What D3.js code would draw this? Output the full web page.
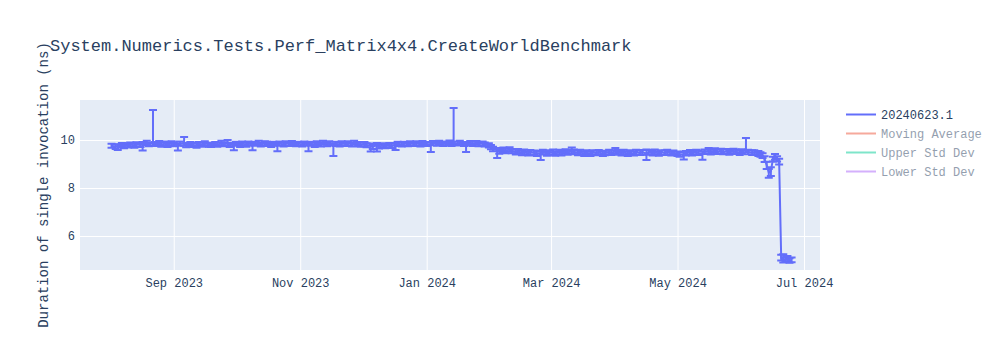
<!DOCTYPE html>
<html>
<head>
<meta charset="utf-8">
<script src="https://cdn.jsdelivr.net/npm/d3@7"></script>
<style>
  html, body { margin: 0; padding: 0; background: #fff; }
  svg { display: block; font-family: "Courier New", "Liberation Mono", monospace; }
</style>
</head>
<body>
<svg id="chart" width="1000" height="350"></svg>
<script>
const chartTitle = "System.Numerics.Tests.Perf_Matrix4x4.CreateWorldBenchmark";
const yAxisTitle = "Duration of single invocation (ns)";

const dates = [
  "2023-08-02","2023-08-04","2023-08-05","2023-08-07","2023-08-08","2023-08-10","2023-08-11","2023-08-13","2023-08-14","2023-08-16","2023-08-17","2023-08-19","2023-08-20","2023-08-22","2023-08-23","2023-08-25","2023-08-26","2023-08-28","2023-08-29","2023-08-31",
  "2023-09-01","2023-09-03","2023-09-04","2023-09-06","2023-09-07","2023-09-09","2023-09-10","2023-09-12","2023-09-13","2023-09-15","2023-09-16","2023-09-18","2023-09-19","2023-09-21","2023-09-22","2023-09-24","2023-09-25","2023-09-27","2023-09-28","2023-09-30",
  "2023-10-01","2023-10-03","2023-10-04","2023-10-06","2023-10-07","2023-10-09","2023-10-10","2023-10-12","2023-10-13","2023-10-15","2023-10-16","2023-10-18","2023-10-19","2023-10-21","2023-10-22","2023-10-24","2023-10-25","2023-10-27","2023-10-28","2023-10-30","2023-10-31",
  "2023-11-02","2023-11-03","2023-11-05","2023-11-06","2023-11-08","2023-11-09","2023-11-11","2023-11-12","2023-11-14","2023-11-15","2023-11-17","2023-11-18","2023-11-20","2023-11-21","2023-11-23","2023-11-24","2023-11-26","2023-11-27","2023-11-29","2023-11-30",
  "2023-12-02","2023-12-03","2023-12-05","2023-12-06","2023-12-08","2023-12-09","2023-12-11","2023-12-12","2023-12-14","2023-12-15","2023-12-17","2023-12-18","2023-12-20","2023-12-21","2023-12-23","2023-12-24","2023-12-26","2023-12-27","2023-12-29","2023-12-30",
  "2024-01-01","2024-01-03","2024-01-04","2024-01-06","2024-01-07","2024-01-09","2024-01-10","2024-01-12","2024-01-13","2024-01-14","2024-01-16","2024-01-17","2024-01-19","2024-01-20","2024-01-22","2024-01-23","2024-01-25","2024-01-26","2024-01-28","2024-01-29","2024-01-31",
  "2024-02-01","2024-02-02","2024-02-04","2024-02-05","2024-02-07","2024-02-08","2024-02-10","2024-02-11","2024-02-13","2024-02-14","2024-02-16","2024-02-17","2024-02-19","2024-02-20","2024-02-22","2024-02-23","2024-02-25","2024-02-26","2024-02-28","2024-02-29",
  "2024-03-02","2024-03-03","2024-03-05","2024-03-06","2024-03-08","2024-03-09","2024-03-11","2024-03-12","2024-03-14","2024-03-15","2024-03-17","2024-03-18","2024-03-20","2024-03-21","2024-03-23","2024-03-24","2024-03-26","2024-03-27","2024-03-29","2024-03-30",
  "2024-04-01","2024-04-02","2024-04-04","2024-04-05","2024-04-07","2024-04-08","2024-04-10","2024-04-11","2024-04-13","2024-04-14","2024-04-16","2024-04-17","2024-04-19","2024-04-20","2024-04-22","2024-04-23","2024-04-25","2024-04-26","2024-04-28","2024-04-29",
  "2024-05-01","2024-05-02","2024-05-04","2024-05-05","2024-05-07","2024-05-08","2024-05-10","2024-05-11","2024-05-13","2024-05-14","2024-05-16","2024-05-17","2024-05-19","2024-05-20","2024-05-22","2024-05-23","2024-05-25","2024-05-26","2024-05-28","2024-05-29","2024-05-31",
  "2024-06-01","2024-06-03","2024-06-04","2024-06-06","2024-06-07","2024-06-09","2024-06-10","2024-06-11","2024-06-12","2024-06-13","2024-06-14","2024-06-15","2024-06-16","2024-06-17","2024-06-18","2024-06-19","2024-06-20","2024-06-21","2024-06-22","2024-06-23","2024-06-24","2024-06-25"
];
const values = [
  9.76,9.72,9.74,9.79,9.75,9.78,9.81,9.77,9.82,9.79,9.84,9.88,9.82,9.87,9.83,9.88,9.81,9.85,9.80,9.86,
  9.82,9.78,9.85,9.84,9.79,9.83,9.80,9.76,9.84,9.80,9.86,9.81,9.79,9.84,9.80,9.87,9.82,9.85,9.80,9.79,
  9.84,9.80,9.85,9.81,9.86,9.79,9.84,9.88,9.81,9.86,9.83,9.80,9.84,9.79,9.85,9.81,9.86,9.83,9.88,9.82,9.85,
  9.81,9.86,9.79,9.84,9.80,9.87,9.82,9.88,9.83,9.86,9.78,9.84,9.81,9.87,9.83,9.86,9.82,9.88,9.84,9.80,
  9.83,9.78,9.76,9.72,9.78,9.73,9.77,9.74,9.79,9.75,9.80,9.84,9.81,9.85,9.82,9.87,9.83,9.86,9.82,9.87,
  9.83,9.82,9.87,9.84,9.88,9.83,9.86,9.89,9.84,9.88,9.85,9.89,9.83,9.82,9.87,9.84,9.88,9.83,9.86,9.81,9.78,
  9.70,9.62,9.58,9.53,9.59,9.55,9.60,9.54,9.50,9.53,9.46,9.50,9.44,9.49,9.46,9.42,9.45,9.49,9.44,9.48,
  9.50,9.44,9.49,9.45,9.52,9.48,9.55,9.50,9.46,9.49,9.43,9.47,9.42,9.48,9.45,9.49,9.42,9.46,9.50,9.47,
  9.53,9.48,9.45,9.49,9.43,9.47,9.44,9.50,9.46,9.49,9.44,9.48,9.45,9.50,9.43,9.48,9.46,9.50,9.44,9.47,
  9.43,9.39,9.42,9.45,9.48,9.44,9.50,9.46,9.44,9.51,9.54,9.50,9.56,9.51,9.55,9.50,9.53,9.49,9.54,9.51,9.48,
  9.52,9.58,9.50,9.48,9.47,9.45,9.40,9.35,9.20,8.95,8.65,8.70,9.20,9.28,9.22,9.12,5.08,5.02,5.00,5.05,4.98,5.00
];
const errUp = [
  0.08,0.09,0.08,0.09,0.08,0.08,0.09,0.08,0.09,0.08,0.08,0.09,0.08,1.38,0.09,0.08,0.09,0.09,0.08,0.09,
  0.09,0.08,0.09,0.28,0.08,0.09,0.08,0.09,0.08,0.09,0.09,0.08,0.09,0.08,0.09,0.10,0.09,0.15,0.09,0.08,
  0.09,0.08,0.09,0.09,0.08,0.08,0.09,0.09,0.08,0.09,0.10,0.08,0.09,0.08,0.09,0.08,0.09,0.09,0.08,0.09,0.08,
  0.09,0.08,0.08,0.09,0.09,0.08,0.09,0.09,0.08,0.09,0.08,0.09,0.09,0.08,0.09,0.09,0.08,0.09,0.08,0.09,
  0.09,0.08,0.09,0.08,0.09,0.08,0.09,0.09,0.08,0.09,0.08,0.09,0.09,0.08,0.09,0.08,0.09,0.09,0.08,0.09,
  0.09,0.08,0.09,0.08,0.09,0.09,0.08,0.09,0.08,1.45,0.09,0.08,0.09,0.08,0.09,0.09,0.08,0.09,0.08,0.09,0.08,
  0.09,0.10,0.09,0.09,0.10,0.09,0.10,0.09,0.09,0.10,0.09,0.10,0.09,0.09,0.10,0.09,0.09,0.10,0.09,0.09,
  0.10,0.09,0.10,0.09,0.09,0.10,0.14,0.10,0.09,0.10,0.09,0.10,0.09,0.09,0.10,0.09,0.10,0.09,0.09,0.10,
  0.14,0.10,0.09,0.10,0.09,0.10,0.09,0.09,0.10,0.09,0.16,0.10,0.09,0.10,0.09,0.09,0.10,0.09,0.10,0.09,
  0.09,0.10,0.09,0.09,0.10,0.09,0.09,0.10,0.09,0.09,0.13,0.09,0.10,0.09,0.09,0.10,0.09,0.09,0.10,0.09,0.09,
  0.09,0.50,0.09,0.09,0.10,0.09,0.09,0.10,0.12,0.14,0.14,0.16,0.10,0.14,0.10,0.10,0.14,0.22,0.10,0.12,0.09,0.10
];
const errDown = [
  0.08,0.09,0.16,0.08,0.09,0.09,0.08,0.09,0.09,0.08,0.28,0.09,0.08,0.10,0.08,0.09,0.09,0.08,0.09,0.09,
  0.08,0.22,0.09,0.08,0.09,0.08,0.09,0.08,0.09,0.08,0.09,0.09,0.08,0.09,0.08,0.09,0.08,0.09,0.09,0.22,
  0.08,0.09,0.08,0.09,0.09,0.22,0.08,0.09,0.08,0.09,0.08,0.09,0.08,0.26,0.09,0.08,0.09,0.08,0.09,0.08,0.09,
  0.08,0.09,0.26,0.08,0.09,0.08,0.09,0.08,0.09,0.08,0.45,0.09,0.08,0.09,0.08,0.09,0.09,0.08,0.09,0.08,
  0.09,0.08,0.24,0.09,0.26,0.08,0.09,0.08,0.09,0.08,0.22,0.09,0.08,0.09,0.08,0.09,0.08,0.09,0.09,0.08,
  0.08,0.32,0.09,0.08,0.09,0.08,0.09,0.08,0.09,0.09,0.08,0.09,0.08,0.32,0.08,0.09,0.08,0.09,0.09,0.08,0.09,
  0.09,0.09,0.33,0.10,0.09,0.10,0.09,0.09,0.10,0.09,0.10,0.09,0.09,0.10,0.09,0.09,0.28,0.09,0.10,0.09,
  0.09,0.10,0.09,0.10,0.09,0.09,0.10,0.09,0.10,0.09,0.10,0.09,0.09,0.10,0.09,0.10,0.09,0.10,0.09,0.09,
  0.09,0.09,0.10,0.09,0.10,0.09,0.09,0.10,0.09,0.10,0.27,0.09,0.10,0.09,0.09,0.10,0.09,0.10,0.09,0.09,
  0.10,0.09,0.23,0.10,0.09,0.09,0.10,0.09,0.26,0.09,0.09,0.10,0.09,0.09,0.10,0.09,0.09,0.10,0.09,0.09,0.10,
  0.09,0.09,0.09,0.10,0.09,0.12,0.10,0.10,0.12,0.16,0.22,0.20,0.10,0.10,0.12,0.14,0.10,0.12,0.08,0.10,0.09,0.09
];

const yTicks = [6, 8, 10];
const xTickDates = ["2023-09-01","2023-11-01","2024-01-01","2024-03-01","2024-05-01","2024-07-01"];
const xTickLabels = ["Sep 2023","Nov 2023","Jan 2024","Mar 2024","May 2024","Jul 2024"];
const xDomain = ["2023-07-17T19:00","2024-07-08T17:00"];
const yDomain = [4.583, 11.667];

const legendNames = ["20240623.1","Moving Average","Upper Std Dev","Lower Std Dev"];
const legendColors = ["#636efa","#EF553B","#00cc96","#ab63fa"];
const legendVisible = [true, false, false, false];

if (values.length !== dates.length || errUp.length !== dates.length || errDown.length !== dates.length) {
  throw new Error("length mismatch " + dates.length + " " + values.length + " " + errUp.length + " " + errDown.length);
}

const parse = d3.utcParse("%Y-%m-%d");
const parseT = d3.utcParse("%Y-%m-%dT%H:%M");

const svg = d3.select("#chart");
const plot = { left: 80, right: 820, top: 100, bottom: 270 };

const x = d3.scaleUtc().domain(xDomain.map(parseT)).range([plot.left, plot.right]);
const y = d3.scaleLinear().domain(yDomain).range([plot.bottom, plot.top]);

const textColor = "#2a3f5f";
const fontFam = "\"Courier New\", \"Liberation Mono\", monospace";

svg.append("rect")
  .attr("x", plot.left).attr("y", plot.top)
  .attr("width", plot.right - plot.left).attr("height", plot.bottom - plot.top)
  .attr("fill", "#E5ECF6");

const xAxis = d3.axisBottom(x)
  .tickValues(xTickDates.map(parse))
  .tickFormat((d, i) => xTickLabels[i])
  .tickSize(-(plot.bottom - plot.top))
  .tickPadding(8);
const gx = svg.append("g").attr("transform", `translate(0,${plot.bottom})`).call(xAxis);
gx.select(".domain").remove();
gx.selectAll(".tick line").attr("stroke", "#fff").attr("stroke-width", 1);
gx.selectAll(".tick text").attr("fill", textColor).attr("font-size", 12).attr("font-family", fontFam);

const yAxis = d3.axisLeft(y)
  .tickValues(yTicks)
  .tickFormat(d3.format("d"))
  .tickSize(-(plot.right - plot.left))
  .tickPadding(5);
const gy = svg.append("g").attr("transform", `translate(${plot.left},0)`).call(yAxis);
gy.select(".domain").remove();
gy.selectAll(".tick line").attr("stroke", "#fff").attr("stroke-width", 1);
gy.selectAll(".tick text").attr("fill", textColor).attr("font-size", 12).attr("font-family", fontFam);

svg.append("defs").append("clipPath").attr("id", "clip")
  .append("rect").attr("x", plot.left).attr("y", plot.top)
  .attr("width", plot.right - plot.left).attr("height", plot.bottom - plot.top);

const data = dates.map((d, i) => ({ date: parse(d), v: values[i], up: errUp[i], dn: errDown[i] }));
const g = svg.append("g").attr("clip-path", "url(#clip)");
const color = legendColors[0];

const eb = g.append("g").attr("stroke", color).attr("stroke-width", 2).attr("fill", "none");
data.forEach(d => {
  const cx = x(d.date), y0 = y(d.v - d.dn), y1 = y(d.v + d.up);
  eb.append("path").attr("d", `M${cx},${y0}V${y1}M${cx - 4},${y1}H${cx + 4}M${cx - 4},${y0}H${cx + 4}`);
});

g.append("path").datum(data)
  .attr("fill", "none").attr("stroke", color).attr("stroke-width", 2)
  .attr("stroke-linejoin", "round")
  .attr("d", d3.line().x(d => x(d.date)).y(d => y(d.v)));

svg.append("text").attr("x", 50).attr("y", 51)
  .attr("font-size", 17).attr("fill", textColor).text(chartTitle);

svg.append("text")
  .attr("transform", `translate(48,${(plot.top + plot.bottom) / 2}) rotate(-90)`)
  .attr("text-anchor", "middle").attr("font-size", 14).attr("fill", textColor)
  .text(yAxisTitle);

const lg = svg.append("g").attr("transform", "translate(846,0)");
legendNames.forEach((name, i) => {
  const cy = 114.5 + i * 19;
  const item = lg.append("g").attr("opacity", legendVisible[i] ? 1 : 0.5);
  item.append("line").attr("x1", 0).attr("x2", 30).attr("y1", cy).attr("y2", cy)
    .attr("stroke", legendColors[i]).attr("stroke-width", 2);
  item.append("text").attr("x", 35).attr("y", cy + 4)
    .attr("font-size", 12).attr("fill", textColor).text(name);
});
</script>
</body>
</html>
